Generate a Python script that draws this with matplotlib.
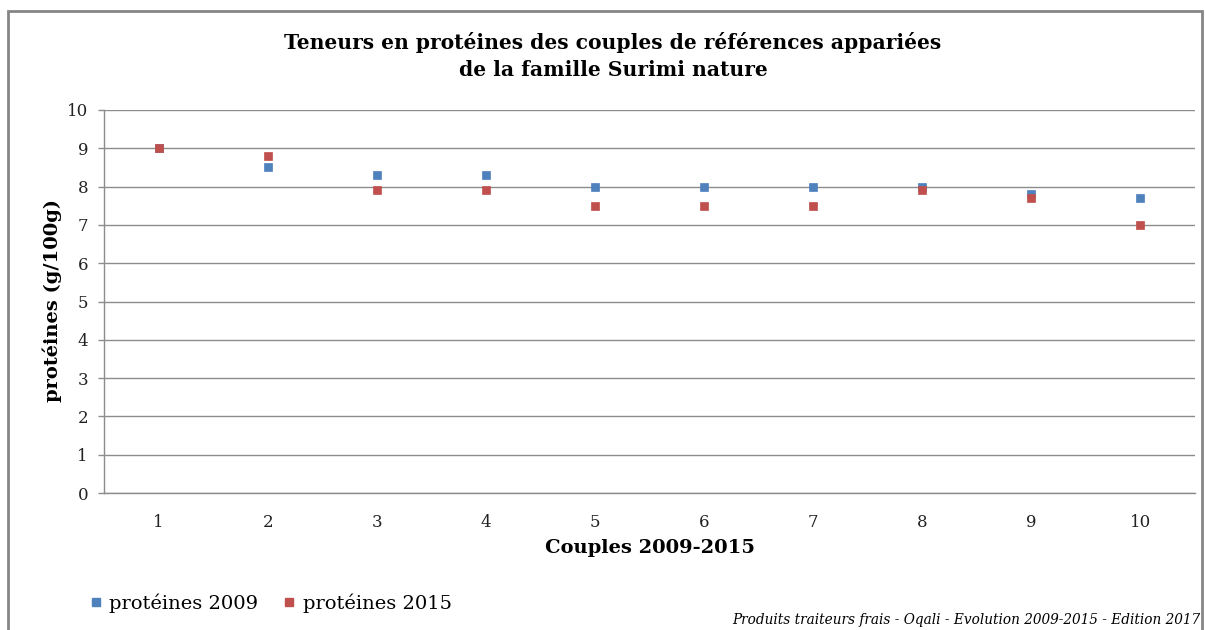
import matplotlib
matplotlib.use('Agg')
import matplotlib.pyplot as plt
from matplotlib.patches import Rectangle
from matplotlib.lines import Line2D

couples = [1, 2, 3, 4, 5, 6, 7, 8, 9, 10]
proteines_2009 = [9.0, 8.5, 8.3, 8.3, 8.0, 8.0, 8.0, 8.0, 7.8, 7.7]
proteines_2015 = [9.0, 8.8, 7.9, 7.9, 7.5, 7.5, 7.5, 7.9, 7.7, 7.0]
y_ticks = [0, 1, 2, 3, 4, 5, 6, 7, 8, 9, 10]

blue = '#4F81BD'
red = '#C0504D'
grid_col = '#8C8C8C'
serif = ['DejaVu Serif']

fig = plt.figure(figsize=(12.05, 6.3), dpi=100)
fig.patch.set_facecolor('white')

# outer chart frame
fig.add_artist(Rectangle((8 / 1205, -0.05), 1194 / 1205, 1.05 - 11 / 630,
                         transform=fig.transFigure, fill=False,
                         edgecolor='#868686', lw=2))

ax = fig.add_axes([104 / 1205, 137 / 630, 1091 / 1205, 383 / 630])
ax.plot(couples, proteines_2009, 's', color=blue, ms=6, mec=blue, mew=0.5, zorder=3)
ax.plot(couples, proteines_2015, 's', color=red, ms=6, mec=red, mew=0.5, zorder=4)

ax.set_xlim(0.5, 10.5)
ax.set_ylim(0, 10)
ax.set_yticks(y_ticks)
ax.set_xticks(couples)
ax.tick_params(axis='x', length=0, pad=15)
ax.tick_params(axis='y', length=4.5, color=grid_col, width=1, pad=7)
for lab in ax.get_xticklabels() + ax.get_yticklabels():
    lab.set_family(serif)
    lab.set_fontsize(12)
    lab.set_color('#222222')

ax.grid(axis='y', color=grid_col, lw=1)
ax.set_axisbelow(True)
for side in ['top', 'right']:
    ax.spines[side].set_visible(False)
for side in ['left', 'bottom']:
    ax.spines[side].set_color(grid_col)
    ax.spines[side].set_linewidth(1)

fig.text(613 / 1205, 1 - 56 / 630,
         'Teneurs en protéines des couples de références appariées\nde la famille Surimi nature',
         ha='center', va='center', fontsize=14.6, fontweight='bold', family=serif,
         linespacing=1.4)
fig.text(52 / 1205, 1 - 300 / 630, 'protéines (g/100g)', rotation=90,
         ha='center', va='center', fontsize=14, fontweight='bold', family=serif)
fig.text(650 / 1205, 1 - 548 / 630, 'Couples 2009-2015', ha='center', va='center',
         fontsize=14, fontweight='bold', family=serif)

handles = [Line2D([], [], ls='none', marker='s', color=blue, ms=6),
           Line2D([], [], ls='none', marker='s', color=red, ms=6)]
fig.legend(handles, ['protéines 2009', 'protéines 2015'], loc='center left',
           bbox_to_anchor=(82 / 1205, 1 - 603 / 630), ncol=2, frameon=False,
           prop={'family': serif, 'size': 14}, handlelength=0.6, handletextpad=0.4,
           columnspacing=1.3, borderaxespad=0)

fig.text(1200 / 1205, 1 - 620 / 630,
         'Produits traiteurs frais - Oqali - Evolution 2009-2015 - Edition 2017',
         ha='right', va='center', fontsize=9.8, style='italic', family=serif)

fig.savefig('out.png', dpi=100)
